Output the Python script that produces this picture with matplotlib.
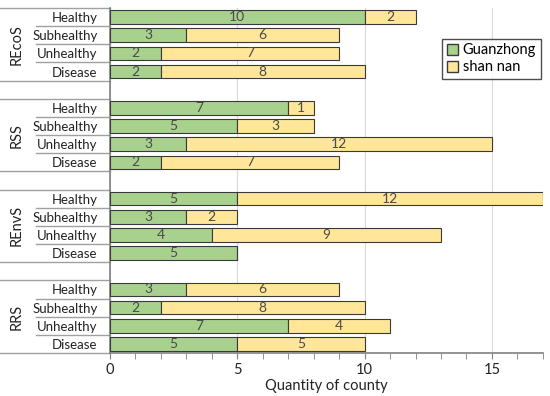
import numpy as np
import matplotlib.pyplot as plt
from matplotlib.lines import Line2D
from matplotlib.patches import Patch

plt.rcParams['font.family'] = ['Lato', 'DejaVu Sans']

# data
groups = ['REcoS', 'RSS', 'REnvS', 'RRS']
categories = ['Healthy', 'Subhealthy', 'Unhealthy', 'Disease']
guanzhong = [
    [10, 3, 2, 2],   # REcoS
    [7, 5, 3, 2],    # RSS
    [5, 3, 4, 5],    # REnvS
    [3, 2, 7, 5],    # RRS
]
shan_nan = [
    [2, 6, 7, 8],
    [1, 3, 12, 7],
    [12, 2, 9, 0],
    [6, 8, 4, 5],
]

green = '#A9D18E'
yellow = '#FFE699'
edge = '#3a3a3a'
txt_col = '#4a4a4a'

fig = plt.figure(figsize=(5.5, 3.96), dpi=100)
ax = fig.add_axes([0.2, 0.1086, 0.787, 0.8712])

# row positions: 4 rows per group plus one empty row between groups
rows = []
labels = []
gz_vals = []
sn_vals = []
pos = 0
group_ranges = []
for g in range(len(groups)):
    start = pos
    for c in range(len(categories)):
        rows.append(pos)
        labels.append(categories[c])
        gz_vals.append(guanzhong[g][c])
        sn_vals.append(shan_nan[g][c])
        pos += 1
    group_ranges.append((start, pos - 1))
    pos += 1  # gap row

rows = np.array(rows)
gz_vals = np.array(gz_vals)
sn_vals = np.array(sn_vals)
h = 0.75

ax.barh(rows, gz_vals, height=h, color=green, edgecolor=edge, linewidth=0.8,
        label='Guanzhong', zorder=3)
ax.barh(rows, sn_vals, left=gz_vals, height=h, color=yellow, edgecolor=edge,
        linewidth=0.8, label='shan nan', zorder=3)

for y, a, b in zip(rows, gz_vals, sn_vals):
    if a > 0:
        ax.text(a / 2, y, str(a), ha='center', va='center', fontsize=10,
                color=txt_col, zorder=4)
    if b > 0:
        ax.text(a + b / 2, y, str(b), ha='center', va='center', fontsize=10,
                color=txt_col, zorder=4)

ax.set_xlim(0, 17)
ax.set_ylim(rows.max() + 0.5, -0.5)
ax.set_xticks([0, 5, 10, 15])
ax.set_xticks(np.arange(0, 18, 1), minor=True)
ax.tick_params(axis='x', which='both', length=4, color='#808080',
               labelsize=10.5, labelcolor='#222222', pad=3)
ax.set_yticks(rows)
ax.set_yticklabels(labels, fontsize=9.5, color='#222222')
ax.tick_params(axis='y', length=0, pad=9)
ax.set_xlabel('Quantity of county', fontsize=10.5, color='#222222', labelpad=2)

ax.grid(axis='x', color='#d9d9d9', linewidth=0.8, zorder=0)
for s in ['top', 'right']:
    ax.spines[s].set_visible(False)
ax.spines['left'].set_color('#808080')
ax.spines['bottom'].set_color('#808080')
ax.spines['left'].set_linewidth(1.2)
ax.spines['bottom'].set_linewidth(1.2)

# multi-level category axis separators
tr = ax.get_yaxis_transform()
x_outer = -0.254
x_inner = -0.171
line_kw = dict(color='#a0a0a0', linewidth=1.0, transform=tr, clip_on=False)
for gi, (start, end) in enumerate(group_ranges):
    ax.add_line(Line2D([x_outer, 0], [start - 0.5, start - 0.5], **line_kw))
    ax.add_line(Line2D([x_outer, 0], [end + 0.5, end + 0.5], **line_kw))
    for r in range(start, end):
        ax.add_line(Line2D([x_inner, 0], [r + 0.5, r + 0.5], **line_kw))
    ax.text(-0.215, (start + end) / 2, groups[gi], rotation=90, ha='center',
            va='center', fontsize=10.5, color='#222222', transform=tr)

handles = [Patch(facecolor=green, edgecolor=edge, label='Guanzhong'),
           Patch(facecolor=yellow, edgecolor=edge, label='shan nan')]
leg = ax.legend(handles=handles, loc='upper left', bbox_to_anchor=(0.768, 0.91),
                fontsize=10.5, frameon=True, fancybox=False, handlelength=0.8,
                handleheight=0.8, handletextpad=0.3, borderpad=0.3,
                labelspacing=0.2, borderaxespad=0)
leg.get_frame().set_edgecolor('#222222')
leg.get_frame().set_linewidth(1.0)

fig.savefig('out.png', dpi=100)
